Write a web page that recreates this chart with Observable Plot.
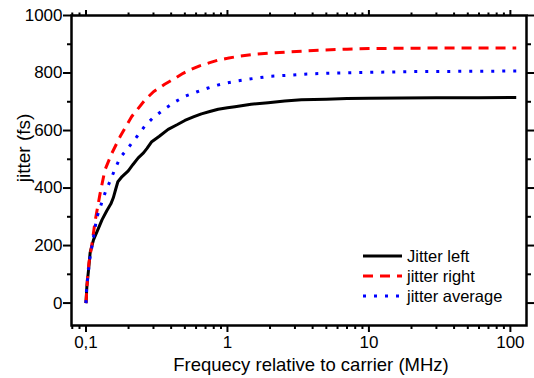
<!DOCTYPE html>
<html><head><meta charset="utf-8">
<script src="https://cdn.jsdelivr.net/npm/d3@7"></script>
<script src="https://cdn.jsdelivr.net/npm/@observablehq/plot@0.6"></script>
<style>
body{margin:0;background:#fff;}
svg{font-family:"Liberation Sans",Arial,sans-serif;}
</style>
</head><body><div id="chart"></div>
<script>
// ---- data ----
const seriesNames = ["Jitter left", "jitter right", "jitter average"];

const leftFreq   = [0.1,0.1015,0.104,0.107,0.113,0.122,0.13,0.14,0.15,0.156,0.162,0.168,0.18,0.199,0.215,0.234,0.255,0.27,0.29,0.33,0.381,0.44,0.5,0.58,0.655,0.75,0.86,1.0,1.13,1.47,1.94,2.54,3.33,5,7,10,17,30,60,110];
const leftJitter = [0,60,110,175,220,258,290,320,345,366,395,422,440,460,482,505,522,538,560,580,604,620,635,648,658,666,674,679,683,691,697,703,707,709,711,712,713,714,714,715];

const rightFreq   = [0.1,0.1025,0.105,0.11,0.116,0.1255,0.136,0.152,0.174,0.21,0.26,0.3,0.36,0.43,0.486,0.55,0.636,0.75,0.86,1.0,1.16,1.56,2.1,2.8,4.4,7,10,17,30,60,110];
const rightJitter = [0,87,140,203,285,378,462,520,578,648,705,735,761,783,799,812,825,836,845,851,857,865,870,874,879,883,885,886,887,887,887];

const avgFreq   = [0.1,0.101,0.104,0.1067,0.1128,0.119,0.129,0.138,0.148,0.16,0.174,0.199,0.23,0.26,0.299,0.357,0.424,0.505,0.604,0.72,0.85,1.0,1.19,1.43,1.7,2.04,2.45,2.91,3.5,5,7.5,12,21.9,50,110];
const avgJitter = [0,52,110,157,226,296,348,390,424,465,505,540,580,615,645,674,699,720,734,747,758,766,773,779,784,789,791,793,796,799,801,803,805,806,807];

const xMajorTicks  = [0.1, 1, 10, 100];
const xMajorLabels = ["0,1", "1", "10", "100"];
const xMinorTicks  = [0.08,0.09,0.2,0.3,0.4,0.5,0.6,0.7,0.8,0.9,2,3,4,5,6,7,8,9,20,30,40,50,60,70,80,90];
const yMajorTicks  = [0, 200, 400, 600, 800, 1000];
const yMinorTicks  = [100, 300, 500, 700, 900];

const xTitle = "Frequecy relative to carrier (MHz)";
const yTitle = "jitter (fs)";

// ---- build ----
const toRows = (fs, js) => fs.map((f, i) => ({f, j: js[i]}));
const leftRows = toRows(leftFreq, leftJitter);
const rightRows = toRows(rightFreq, rightJitter);
const avgRows = toRows(avgFreq, avgJitter);

const styles = [
  {stroke: "#000000", strokeWidth: 3, strokeLinecap: "butt", strokeLinejoin: "round"},
  {stroke: "#ff0000", strokeWidth: 3, strokeDasharray: "10,7", strokeLinecap: "butt", strokeLinejoin: "miter"},
  {stroke: "#0000ff", strokeWidth: 3, strokeDasharray: "3,8", strokeLinecap: "butt", strokeLinejoin: "miter"}
];

const blank = () => "";
const tickCommon = {strokeWidth: 2, label: null};

const chart = Plot.plot({
  width: 534, height: 378,
  marginLeft: 71, marginRight: 8, marginTop: 15, marginBottom: 53,
  style: {fontFamily: '"Liberation Sans", Arial, sans-serif', fontSize: "17px", color: "#000", background: "#fff", overflow: "visible"},
  x: {type: "log", domain: [0.079, 130]},
  y: {domain: [-78, 1000]},
  marks: [
    Plot.axisX(xMajorTicks, {...tickCommon, anchor: "bottom", tickSize: 7, tickPadding: 3, fontSize: 17,
      tickFormat: d => xMajorLabels[xMajorTicks.indexOf(d)]}),
    Plot.axisX(xMinorTicks, {...tickCommon, anchor: "bottom", tickSize: 4, tickFormat: blank}),
    Plot.axisX(xMajorTicks, {...tickCommon, anchor: "top", tickSize: 6, tickFormat: blank}),
    Plot.axisX(xMinorTicks, {...tickCommon, anchor: "top", tickSize: 3.5, tickFormat: blank}),
    Plot.axisY(yMajorTicks, {...tickCommon, anchor: "left", tickSize: 8, tickPadding: 1, fontSize: 17, tickFormat: d => String(d)}),
    Plot.axisY(yMinorTicks, {...tickCommon, anchor: "left", tickSize: 4, tickFormat: blank}),
    Plot.axisY(yMajorTicks, {...tickCommon, anchor: "right", tickSize: 7, tickFormat: blank}),
    Plot.axisY(yMinorTicks, {...tickCommon, anchor: "right", tickSize: 4, tickFormat: blank}),
    Plot.line(leftRows, {x: "f", y: "j", ...styles[0]}),
    Plot.line(rightRows, {x: "f", y: "j", ...styles[1]}),
    Plot.line(avgRows, {x: "f", y: "j", ...styles[2]}),
    Plot.frame({strokeWidth: 2.5, stroke: "#000"})
  ]
});
document.getElementById("chart").appendChild(chart);

// ---- titles & legend ----
const svg = d3.select(chart);
svg.append("text")
  .attr("x", 311).attr("y", 371)
  .attr("text-anchor", "middle")
  .attr("font-size", 18.5)
  .attr("fill", "#000")
  .text(xTitle);
svg.append("text")
  .attr("transform", "translate(30,148) rotate(-90)")
  .attr("text-anchor", "middle")
  .attr("font-size", 19)
  .attr("fill", "#000")
  .text(yTitle);

const lg = svg.append("g").attr("transform", "translate(363,256)");
seriesNames.forEach((name, i) => {
  const s = styles[i];
  lg.append("line")
    .attr("x1", 0).attr("x2", 39).attr("y1", i * 20).attr("y2", i * 20)
    .attr("stroke", s.stroke).attr("stroke-width", s.strokeWidth)
    .attr("stroke-linecap", "butt")
    .attr("stroke-dasharray", s.strokeDasharray || null);
  lg.append("text")
    .attr("x", 44).attr("y", i * 20 + 6)
    .attr("text-anchor", "start")
    .attr("font-size", 16.5).attr("fill", "#000")
    .text(name);
});
</script>
</body></html>
